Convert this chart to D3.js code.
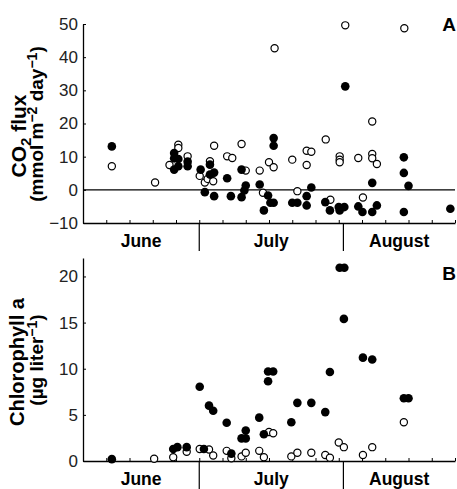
<!DOCTYPE html>
<html>
<head>
<meta charset="utf-8">
<script src="https://d3js.org/d3.v7.min.js"></script>
<style>
  body { margin: 0; background: #fff; }
  svg { display: block; }
  text { font-family: "Liberation Sans", Arial, sans-serif; fill: #000; }
</style>
</head>
<body>
<svg id="chart" width="457" height="489"></svg>
<script>
// day of year: 182 = July 1, 213 = August 1
const months = [
  {name: "June", mid: 169.5},
  {name: "July", mid: 197.5},
  {name: "August", mid: 225}
];
const monthStarts = [182, 213];
const dayTicks = d3.range(157, 238, 5);

// panel A: CO2 flux (mmol m-2 day-1)
const co2Filled = [
  [163.2, 13.1], [176.6, 6.1], [176.6, 11.1], [176.6, 9.5], [177.5, 9.3], [177.5, 7.1],
  [179.5, 8.5], [179.5, 7.1], [182.3, 6.1], [183.2, -0.7], [184.3, 7.6], [184.3, 4.6],
  [185.2, 5.2], [185.2, -1.9], [188.0, 3.5], [188.8, -1.9], [191.1, 6.1], [192.0, 1.3],
  [191.7, -0.2], [191.1, -2.2], [195.0, 1.6], [196.8, -1.7], [195.9, -6.2], [197.3, -3.9],
  [198.0, -3.9], [198.0, 15.6], [198.0, 13.3], [202.0, -3.9], [203.1, -3.9], [206.1, 0.7],
  [205.1, -1.9], [205.1, -4.7], [209.1, -3.7], [210.1, -6.2], [212.0, -5.2], [212.2, -6.2],
  [213.2, -5.2], [213.4, 31.2], [216.2, -5.0], [217.1, -6.7], [219.2, 2.1], [219.2, -6.7],
  [220.2, -4.7], [226.0, 9.8], [226.0, 5.1], [227.0, 1.2], [226.0, -6.7], [236.0, -5.7]
];
const co2Open = [
  [163.2, 7.1], [172.5, 2.2], [175.6, 7.5], [177.5, 13.6], [177.5, 12.6], [179.5, 10.1],
  [182.1, 4.2], [183.2, 2.2], [184.3, 8.6], [183.8, 3.3], [185.0, 2.6], [185.2, 13.3],
  [188.0, 10.1], [189.1, 9.6], [191.1, 13.8], [192.0, 5.8], [195.0, 5.8], [195.7, -0.9],
  [197.0, 8.3], [198.0, 6.8], [198.2, 42.7], [202.0, 9.1], [203.1, -0.4], [205.1, 11.8],
  [206.1, 11.5], [205.1, 7.5], [209.2, 15.2], [210.2, -3.0], [212.2, 10.1], [212.2, 9.1],
  [212.2, 8.3], [213.4, 49.6], [216.2, 9.6], [217.2, -2.3], [219.2, 20.6], [219.2, 10.8],
  [219.2, 9.5], [220.2, 7.8], [226.1, 48.7]
];
const co2Ticks = [-10, 0, 10, 20, 30, 40, 50];

// panel B: chlorophyll a (ug liter-1)
const chlFilled = [
  [163.2, 0.2], [176.4, 1.3], [177.3, 1.5], [179.3, 1.5], [182.1, 8.05], [183.0, 1.3],
  [184.1, 6.0], [185.0, 5.45], [187.9, 4.15], [188.9, 0.8], [191.1, 2.45], [192.0, 2.45],
  [192.0, 3.3], [194.9, 4.7], [195.9, 2.9], [196.8, 9.7], [197.9, 9.7], [196.8, 8.65],
  [201.8, 4.2], [203.1, 6.3], [206.1, 6.3], [209.1, 5.3], [210.1, 9.65], [212.2, 20.95],
  [213.2, 20.95], [213.1, 15.4], [217.2, 11.2], [219.2, 11.0], [226.0, 6.8], [227.0, 6.8]
];
const chlOpen = [
  [172.3, 0.25], [176.4, 0.4], [179.3, 1.0], [182.1, 1.3], [184.1, 1.25], [185.0, 0.6],
  [187.9, 1.1], [188.9, 0.3], [191.1, 0.5], [192.0, 0.9], [194.9, 1.1], [195.9, 0.4],
  [197.0, 3.15], [197.9, 3.0], [201.8, 0.5], [203.1, 0.9], [206.1, 0.9], [209.1, 0.65],
  [210.1, 0.36], [212.0, 2.0], [213.1, 1.5], [217.2, 0.65], [219.2, 1.5], [226.0, 4.2]
];
const chlTicks = [0, 5, 10, 15, 20];

const svg = d3.select("#chart");
const x = d3.scaleLinear().domain([157, 237]).range([83, 455]);

function drawPanel(opt) {
  const y = d3.scaleLinear().domain(opt.yDomain).range(opt.yRange);
  const g = svg.append("g");

  // y axis, ticks pointing inward
  const ya = g.append("g")
    .attr("transform", "translate(83,0)")
    .call(d3.axisLeft(y).tickValues(opt.ticks).tickSize(-3).tickSizeOuter(0).tickPadding(5)
      .tickFormat(d => d < 0 ? "\u2212" + Math.abs(d) : d));
  ya.select(".domain").attr("stroke-width", 1.3);
  ya.selectAll("text").style("font-size", "17px").style("fill", "#222");

  // x axis, no labels
  const xa = g.append("g")
    .attr("transform", "translate(0," + opt.yRange[0] + ")")
    .call(d3.axisBottom(x).tickValues(dayTicks).tickSize(-3).tickSizeOuter(0).tickFormat(""));
  xa.select(".domain").attr("stroke-width", 1.3);

  if (opt.zeroLine) {
    g.append("line")
      .attr("x1", x(157)).attr("x2", x(237))
      .attr("y1", y(0)).attr("y2", y(0))
      .attr("stroke", "#000").attr("stroke-width", 1.2);
  }

  // month separators and names
  g.selectAll(".sep").data(monthStarts).join("line")
    .attr("x1", d => x(d)).attr("x2", d => x(d))
    .attr("y1", opt.yRange[0]).attr("y2", opt.yRange[0] + 28)
    .attr("stroke", "#000").attr("stroke-width", 1.2);
  g.selectAll(".month").data(months).join("text")
    .attr("x", d => x(d.mid)).attr("y", opt.yRange[0] + 24)
    .attr("text-anchor", "middle")
    .style("font-size", "17.5px").style("font-weight", "bold")
    .text(d => d.name);

  // points
  g.selectAll(".open").data(opt.open).join("circle")
    .attr("cx", d => x(d[0])).attr("cy", d => y(d[1]))
    .attr("r", 3.6).attr("fill", "#fff").attr("stroke", "#000").attr("stroke-width", 1.2);
  g.selectAll(".filled").data(opt.filled).join("circle")
    .attr("cx", d => x(d[0])).attr("cy", d => y(d[1]))
    .attr("r", 4.3).attr("fill", "#000");

  // panel letter
  g.append("text").attr("x", 449).attr("y", opt.letterY)
    .attr("text-anchor", "middle")
    .style("font-size", "19px").style("font-weight", "bold")
    .text(opt.letter);

  // y title, two lines
  opt.title.forEach(t => {
    const tx = g.append("text")
      .attr("transform", "translate(" + t.x + "," + t.cy + ") rotate(-90)")
      .attr("text-anchor", "middle")
      .style("font-size", t.size).style("font-weight", "bold");
    t.parts.forEach(p => {
      tx.append("tspan")
        .attr("dy", p.dy || 0)
        .style("font-size", p.size || null)
        .text(p.s);
    });
  });
}

drawPanel({
  yDomain: [-10, 50], yRange: [223, 24], ticks: co2Ticks, zeroLine: true,
  filled: co2Filled, open: co2Open, letter: "A", letterY: 31,
  title: [
    {x: 26, cy: 136, size: "21px", parts: [{s: "CO"}, {s: "2", dy: 5, size: "15px"}, {s: " flux", dy: -5}]},
    {x: 43, cy: 124, size: "19px", parts: [{s: "(mmol m"}, {s: "\u22122", dy: -6, size: "14px"},
      {s: " day", dy: 6}, {s: "\u22121", dy: -6, size: "14px"}, {s: ")", dy: 6}]}
  ]
});

drawPanel({
  yDomain: [0, 22], yRange: [461, 258], ticks: chlTicks, zeroLine: false,
  filled: chlFilled, open: chlOpen, letter: "B", letterY: 280,
  title: [
    {x: 24, cy: 362, size: "20px", parts: [{s: "Chlorophyll a"}]},
    {x: 43, cy: 360, size: "19px", parts: [{s: "(\u00b5g liter"}, {s: "\u22121", dy: -6, size: "14px"}, {s: ")", dy: 6}]}
  ]
});
</script>
</body>
</html>
